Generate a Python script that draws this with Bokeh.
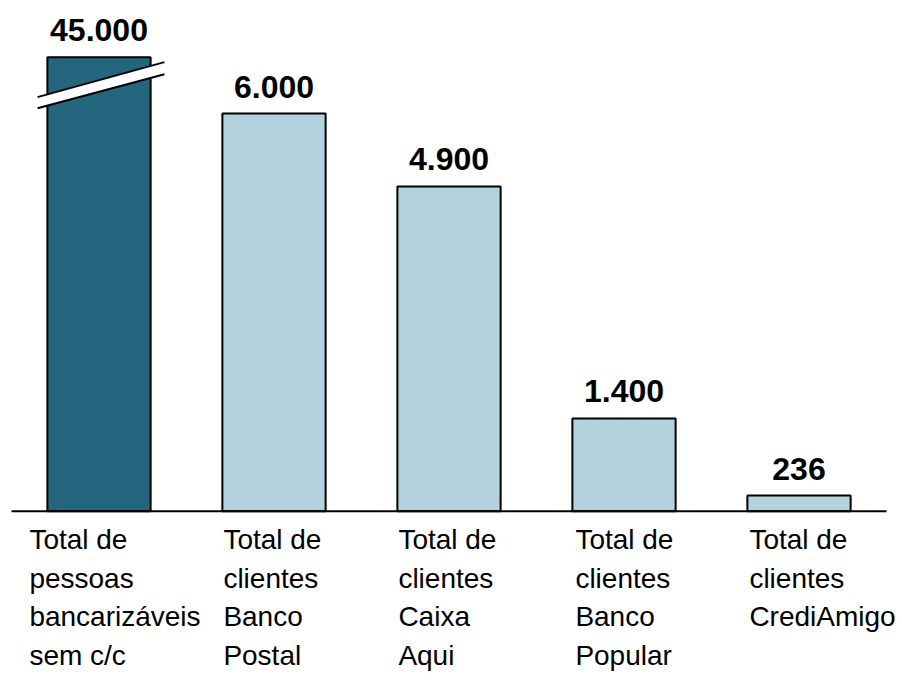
from bokeh.plotting import figure
from bokeh.models import ColumnDataSource, Range1d
from bokeh.core.properties import value
from bokeh.embed import file_html
from bokeh.resources import INLINE

# ---- data ----
categories = [
    "Total de\npessoas\nbancarizáveis\nsem c/c",
    "Total de\nclientes\nBanco\nPostal",
    "Total de\nclientes\nCaixa\nAqui",
    "Total de\nclientes\nBanco\nPopular",
    "Total de\nclientes\nCrediAmigo",
]
values = [45000, 6000, 4900, 1400, 236]
value_labels = ["45.000", "6.000", "4.900", "1.400", "236"]
highlighted = [True, False, False, False, False]
display_cap = 6850  # broken-axis cap for the first bar

# ---- layout ----
W, H = 902, 682
axis_left_px, axis_right_px = 11, 886       # extent of the baseline
px_per_cat = (axis_right_px - axis_left_px) / len(categories)
x_start = -0.5 - axis_left_px / px_per_cat
x_end = 4.5 + (W - axis_right_px) / px_per_cat
units_per_px = 6000 / 397.7
baseline_px = 510.7  # from canvas top
y_end = baseline_px * units_per_px
y_start = -(H - baseline_px) * units_per_px

DARK = "#25667f"
LIGHT = "#b2d2dd"
FONT = "Liberation Sans"

xs = list(range(len(categories)))
heights = [min(v, display_cap) for v in values]
colors = [DARK if h else LIGHT for h in highlighted]
bar_w = 0.59

src = ColumnDataSource(dict(x=xs, top=heights, color=colors, lab=value_labels,
                            cat=categories,
                            lx=[x - bar_w / 2 for x in xs],
                            lxo=[-18, 1, 1, 3, 2]))

p = figure(width=W, height=H, output_backend="svg", toolbar_location=None,
           x_range=Range1d(x_start, x_end), y_range=Range1d(y_start, y_end),
           x_axis_type=None, y_axis_type=None,
           min_border_left=0, min_border_right=0,
           min_border_top=0, min_border_bottom=0)
p.outline_line_color = None
p.background_fill_color = "white"
p.border_fill_color = "white"

p.vbar(x="x", top="top", bottom=0, width=bar_w, fill_color="color",
       line_color="black", line_width=2, source=src)

# break mark on the capped bar
for i, v in enumerate(values):
    if v > display_cap:
        top = display_cap
        x0 = i - 0.351
        x1 = i + 0.374
        u0 = top - 40 * units_per_px
        u1 = top - 5 * units_per_px
        l0 = top - 51 * units_per_px
        l1 = top - 17 * units_per_px
        p.patch([x0, x1, x1, x0], [u0, u1, l1, l0], fill_color="white",
                line_color=None)
        p.line([x0, x1], [u0, u1], line_color="black", line_width=2)
        p.line([x0, x1], [l0, l1], line_color="black", line_width=2)

# baseline
p.line([-0.5, len(categories) - 0.5], [0, 0], line_color="black",
       line_width=2)

p.text(x="x", y="top", text="lab", source=src, text_align="center",
       text_baseline="bottom", y_offset=-16, text_font=value(FONT),
       text_font_style="bold", text_font_size="32px", text_color="black")

p.text(x="lx", y=0, text="cat", source=src, x_offset="lxo", y_offset=13,
       text_align="left", text_baseline="top", text_font=value(FONT),
       text_font_size="28px", text_color="black", text_line_height=1.24)

open("out.html", "w").write(file_html(p, INLINE))
